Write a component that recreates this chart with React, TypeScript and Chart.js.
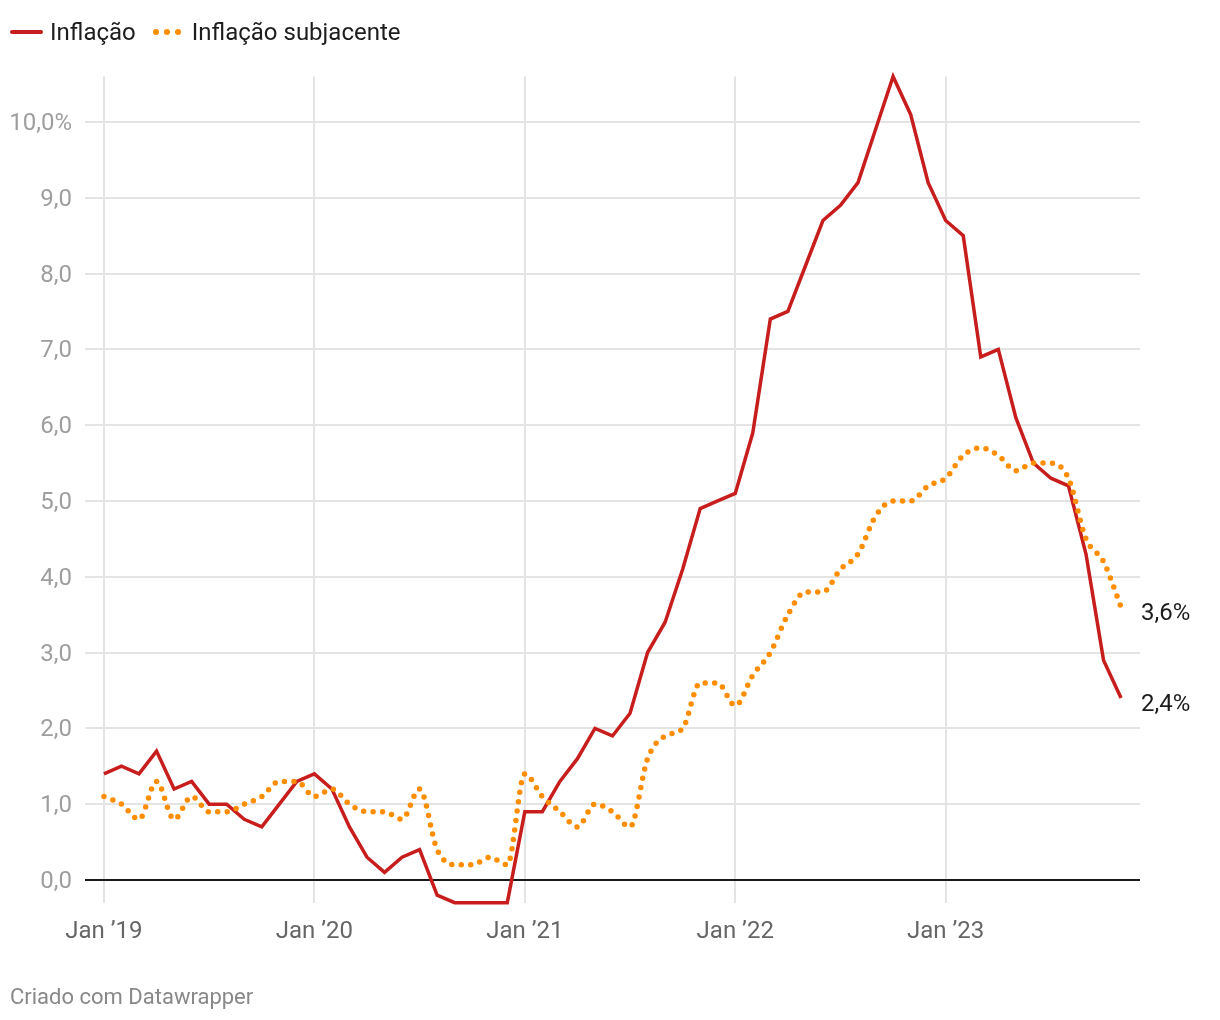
import React, { useEffect, useRef } from "react";
import { Chart, registerables } from "chart.js";

Chart.register(...registerables);

const months = [
  "2019-01", "2019-02", "2019-03", "2019-04", "2019-05", "2019-06", "2019-07", "2019-08", "2019-09", "2019-10", "2019-11", "2019-12",
  "2020-01", "2020-02", "2020-03", "2020-04", "2020-05", "2020-06", "2020-07", "2020-08", "2020-09", "2020-10", "2020-11", "2020-12",
  "2021-01", "2021-02", "2021-03", "2021-04", "2021-05", "2021-06", "2021-07", "2021-08", "2021-09", "2021-10", "2021-11", "2021-12",
  "2022-01", "2022-02", "2022-03", "2022-04", "2022-05", "2022-06", "2022-07", "2022-08", "2022-09", "2022-10", "2022-11", "2022-12",
  "2023-01", "2023-02", "2023-03", "2023-04", "2023-05", "2023-06", "2023-07", "2023-08", "2023-09", "2023-10", "2023-11",
];

const inflation = [
  1.4, 1.5, 1.4, 1.7, 1.2, 1.3, 1.0, 1.0, 0.8, 0.7, 1.0, 1.3,
  1.4, 1.2, 0.7, 0.3, 0.1, 0.3, 0.4, -0.2, -0.3, -0.3, -0.3, -0.3,
  0.9, 0.9, 1.3, 1.6, 2.0, 1.9, 2.2, 3.0, 3.4, 4.1, 4.9, 5.0,
  5.1, 5.9, 7.4, 7.5, 8.1, 8.7, 8.9, 9.2, 9.9, 10.6, 10.1, 9.2,
  8.7, 8.5, 6.9, 7.0, 6.1, 5.5, 5.3, 5.2, 4.3, 2.9, 2.4,
];

const coreInflation = [
  1.1, 1.0, 0.8, 1.3, 0.8, 1.1, 0.9, 0.9, 1.0, 1.1, 1.3, 1.3,
  1.1, 1.2, 1.0, 0.9, 0.9, 0.8, 1.2, 0.4, 0.2, 0.2, 0.3, 0.2,
  1.4, 1.1, 0.9, 0.7, 1.0, 0.9, 0.7, 1.6, 1.9, 2.0, 2.6, 2.6,
  2.3, 2.7, 3.0, 3.5, 3.8, 3.8, 4.1, 4.3, 4.8, 5.0, 5.0, 5.2,
  5.3, 5.6, 5.7, 5.6, 5.4, 5.5, 5.5, 5.3, 4.5, 4.2, 3.6,
];

const seriesNames = ["Inflação", "Inflação subjacente"];
const xTickIndices = [0, 12, 24, 36, 48];
const xTickLabels = ["Jan ’19", "Jan ’20", "Jan ’21", "Jan ’22", "Jan ’23"];
const yTickValues = [0, 1, 2, 3, 4, 5, 6, 7, 8, 9, 10];
const yTickLabels = ["0,0", "1,0", "2,0", "3,0", "4,0", "5,0", "6,0", "7,0", "8,0", "9,0", "10,0%"];
const endLabels = ["2,4%", "3,6%"];
const footerText = "Criado com Datawrapper";

const RED = "#c71e1d";
const ORANGE = "#ff8d00";
const FONT = "Roboto";

const endLabelPlugin = {
  id: "endLabels",
  afterDatasetsDraw(chart: any) {
    const ctx = chart.ctx;
    ctx.save();
    ctx.font = `24px ${FONT}`;
    ctx.fillStyle = "#1d1d1d";
    ctx.textAlign = "left";
    ctx.textBaseline = "middle";
    chart.data.datasets.forEach((ds: any, i: number) => {
      const meta = chart.getDatasetMeta(i);
      const pts = meta.data;
      const last = pts[pts.length - 1];
      if (!last) return;
      ctx.fillText(ds.endLabel, last.x + 20, last.y + 7);
    });
    ctx.restore();
  },
};

export default function App() {
  const canvasRef = useRef<HTMLCanvasElement | null>(null);

  useEffect(() => {
    const canvas = canvasRef.current;
    if (!canvas) return;
    Chart.defaults.font.family = FONT;
    const chart = new Chart(canvas, {
      type: "line",
      data: {
        labels: months,
        datasets: [
          {
            label: seriesNames[1],
            endLabel: endLabels[1],
            data: coreInflation.map((v, i) => ({ x: i, y: v })),
            borderColor: ORANGE,
            borderWidth: 5.5,
            borderDash: [0, 9.5],
            borderCapStyle: "round",
            cubicInterpolationMode: "monotone",
            pointRadius: 0,
            fill: false,
            clip: false,
          } as any,
          {
            label: seriesNames[0],
            endLabel: endLabels[0],
            data: inflation.map((v, i) => ({ x: i, y: v })),
            borderColor: RED,
            borderWidth: 3.5,
            borderJoinStyle: "miter",
            pointRadius: 0,
            tension: 0,
            fill: false,
            clip: false,
          } as any,
        ],
      },
      options: {
        animation: false,
        responsive: false,
        maintainAspectRatio: false,
        layout: { padding: { left: 0, top: 68.5, right: 72, bottom: 49.3 } },
        plugins: {
          legend: { display: false },
          tooltip: { enabled: false },
        },
        scales: {
          x: {
            type: "linear",
            min: -1.08,
            max: 59.08,
            afterBuildTicks: (s: any) => {
              s.ticks = xTickIndices.map((v) => ({ value: v }));
            },
            afterFit: (s: any) => {
              s.height = 60;
            },
            ticks: {
              autoSkip: false,
              maxRotation: 0,
              padding: 15,
              color: "#666666",
              font: { size: 24, family: FONT },
              callback: (v: any) => {
                const k = xTickIndices.indexOf(Number(v));
                return k >= 0 ? xTickLabels[k] : "";
              },
            },
            grid: { color: "#e4e4e4", lineWidth: 2, drawTicks: false },
            border: { display: false },
          },
          y: {
            min: -0.3,
            max: 10.6,
            afterBuildTicks: (s: any) => {
              s.ticks = yTickValues.map((v) => ({ value: v }));
            },
            afterFit: (s: any) => {
              s.width = 77;
            },
            ticks: {
              padding: 13,
              labelOffset: 2,
              color: "#9e9e9e",
              font: { size: 24, family: FONT },
              callback: (v: any) => {
                const k = yTickValues.indexOf(Number(v));
                return k >= 0 ? yTickLabels[k] : "";
              },
            },
            grid: {
              color: (c: any) => (c.tick && c.tick.value === 0 ? "#1a1a1a" : "#e4e4e4"),
              lineWidth: 2,
              drawTicks: false,
            },
            border: { display: false },
          },
        },
      } as any,
      plugins: [endLabelPlugin],
    });
    return () => chart.destroy();
  }, []);

  return (
    <div style={{ position: "relative", width: 1204, height: 1004, fontFamily: FONT }}>
      <canvas ref={canvasRef} width={1204} height={1004} style={{ position: "absolute", left: 0, top: 0 }} />
      <div style={{ position: "absolute", left: 2, top: 10, height: 28, display: "flex", alignItems: "center", fontSize: 24, color: "#1d1d1d", lineHeight: "28px" }}>
        <span style={{ display: "inline-block", width: 33, height: 4, borderRadius: 2, background: RED, marginRight: 7 }} />
        <span>{seriesNames[0]}</span>
        <span style={{ display: "inline-flex", gap: 5, marginLeft: 17, marginRight: 11 }}>
          <span style={{ width: 6, height: 6, borderRadius: 3, background: ORANGE }} />
          <span style={{ width: 6, height: 6, borderRadius: 3, background: ORANGE }} />
          <span style={{ width: 6, height: 6, borderRadius: 3, background: ORANGE }} />
        </span>
        <span>{seriesNames[1]}</span>
      </div>
      <div style={{ position: "absolute", left: 2, top: 975, fontSize: 22, color: "#888888", lineHeight: "28px" }}>
        {footerText}
      </div>
    </div>
  );
}
